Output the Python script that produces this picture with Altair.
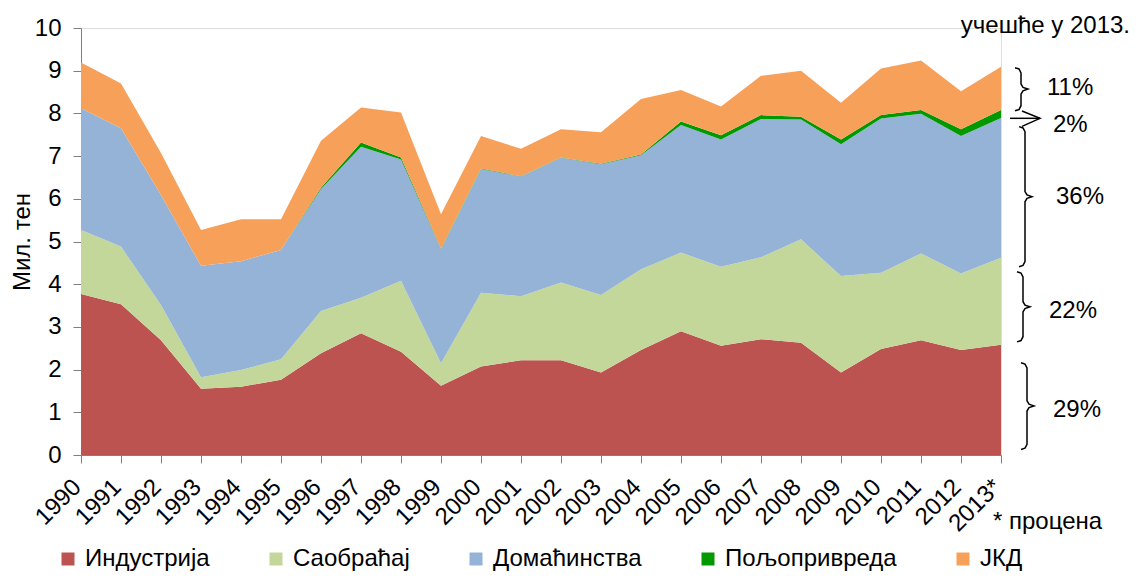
import altair as alt
import pandas as pd

years = ["1990", "1991", "1992", "1993", "1994", "1995", "1996", "1997", "1998", "1999",
         "2000", "2001", "2002", "2003", "2004", "2005", "2006", "2007", "2008", "2009",
         "2010", "2011", "2012", "2013*"]

series_names = ["Индустрија", "Саобраћај", "Домаћинства", "Пољопривреда", "ЈКД"]
series_colors = ["#BC5350", "#C4D79B", "#95B3D7", "#009A00", "#F7A05A"]

industry = [3.77, 3.53, 2.69, 1.55, 1.60, 1.76, 2.38, 2.85, 2.42, 1.62, 2.07, 2.22,
            2.22, 1.93, 2.46, 2.90, 2.56, 2.71, 2.63, 1.93, 2.48, 2.69, 2.46, 2.58]
transport = [1.50, 1.35, 0.82, 0.27, 0.39, 0.48, 0.99, 0.83, 1.66, 0.53, 1.73, 1.50,
             1.82, 1.82, 1.89, 1.84, 1.85, 1.92, 2.42, 2.26, 1.79, 2.03, 1.79, 2.04]
households = [2.85, 2.77, 2.58, 2.61, 2.55, 2.56, 2.86, 3.54, 2.84, 2.67, 2.90, 2.80,
              2.92, 3.06, 2.67, 2.99, 2.98, 3.24, 2.81, 3.09, 3.61, 3.27, 3.22, 3.27]
agriculture = [0.0, 0.0, 0.0, 0.0, 0.0, 0.0, 0.03, 0.10, 0.05, 0.01, 0.01, 0.01,
               0.01, 0.01, 0.02, 0.08, 0.10, 0.09, 0.06, 0.11, 0.08, 0.09, 0.16, 0.19]
jkd = [1.07, 1.05, 0.98, 0.84, 0.98, 0.72, 1.10, 0.82, 1.05, 0.81, 0.76, 0.64,
       0.66, 0.74, 1.30, 0.74, 0.67, 0.92, 1.08, 0.86, 1.09, 1.16, 0.89, 1.01]

# share labels for 2013 and the span (in Mtoe) each brace covers
share_labels = ["11%", "2%", "36%", "22%", "29%"]
brace_top = [9.07, 7.69, 4.29, 2.16]
brace_bottom = [8.06, 4.41, 2.65, 0.13]
brace_mid = [8.57, 6.05, 3.47, 1.15]
brace_x = [940, 944, 942, 946]          # px from plot left
arrow_y = 7.885

FONT = "Liberation Sans"

values = [industry, transport, households, agriculture, jkd]
rows = []
for si, (name, vals) in enumerate(zip(series_names, values)):
    for y, v in zip(years, vals):
        rows.append({"year": y, "series": name, "value": v, "ord": si})
df = pd.DataFrame(rows)

area = alt.Chart(df).mark_area(opacity=1).encode(
    x=alt.X("year:O", sort=years, scale=alt.Scale(type="point", padding=0),
            axis=alt.Axis(title=None, labelAngle=315, labelAlign="right",
                          labelBaseline="alphabetic",
                          labelFontSize=24, labelFont=FONT,
                          labelColor="black", tickSize=8, tickColor="#808080",
                          domainColor="#808080", labelPadding=25, labelOffset=1)),
    y=alt.Y("value:Q", stack="zero", scale=alt.Scale(domain=[0, 10], nice=False),
            axis=alt.Axis(title="Мил. тен", values=list(range(11)), grid=False,
                          labelFontSize=24, labelFont=FONT, labelColor="black",
                          tickSize=8, tickColor="#808080", domainColor="#808080",
                          labelPadding=12, titleFontSize=24, titleFont=FONT,
                          titleFontWeight="normal", titleColor="black", titlePadding=0)),
    color=alt.Color("series:N", scale=alt.Scale(domain=series_names, range=series_colors),
                    sort=series_names,
                    legend=alt.Legend(title=None, orient="none", direction="horizontal",
                                      legendX=-25, legendY=519, symbolType="square",
                                      symbolSize=169, symbolStrokeWidth=0,
                                      labelFontSize=24, labelFont=FONT, labelColor="black",
                                      labelLimit=400, columnPadding=54, labelOffset=5,
                                      padding=0)),
    order=alt.Order("ord:Q"),
)

# brace shapes
brows = []
for bi, (t, b, m, x) in enumerate(zip(brace_top, brace_bottom, brace_mid, brace_x)):
    pts = [(x - 6, t), (x - 2, t - 0.03), (x, t - 0.12), (x, m + 0.12), (x + 2, m + 0.04),
           (x + 7, m), (x + 2, m - 0.04), (x, m - 0.12), (x, b + 0.12), (x - 2, b + 0.03),
           (x - 6, b)]
    for k, (px, py) in enumerate(pts):
        brows.append({"g": f"b{bi}", "k": k, "bx": px, "by": py})
# arrow for 2%
arrow_pts = [("a0", [(929, arrow_y), (959, arrow_y)]),
             ("a1", [(941, arrow_y + 0.17), (959, arrow_y), (941, arrow_y - 0.19)])]
for g, pts in arrow_pts:
    for k, (px, py) in enumerate(pts):
        brows.append({"g": g, "k": k, "bx": px, "by": py})
bdf = pd.DataFrame(brows)

braces = alt.Chart(bdf).mark_line(color="black", strokeWidth=1.5, clip=False).encode(
    x=alt.X("bx:Q", scale=alt.Scale(domain=[0, 920], nice=False, zero=False), axis=None),
    y=alt.Y("by:Q", scale=alt.Scale(domain=[0, 10], nice=False), axis=None),
    detail="g:N",
    order="k:Q",
)

texts = []
text_specs = [
    ("учешће у 2013.", 1049, 5, "right"),
    (share_labels[0], 966, 67, "left"),
    (share_labels[1], 972, 104, "left"),
    (share_labels[2], 975, 176, "left"),
    (share_labels[3], 968, 290, "left"),
    (share_labels[4], 972, 389, "left"),
    ("* процена", 912, 501, "left"),
]
for txt, tx, ty, al in text_specs:
    texts.append(
        alt.Chart(pd.DataFrame({"t": [txt]})).mark_text(
            align=al, baseline="alphabetic", fontSize=24, font=FONT, color="black"
        ).encode(x=alt.value(tx), y=alt.value(ty), text="t:N")
    )

chart = alt.layer(area, braces, *texts).resolve_scale(
    x="independent", y="independent"
).properties(
    width=920, height=427,
    autosize=alt.AutoSizeParams(type="none"),
    padding={"left": 73, "top": 20, "right": 130, "bottom": 118},
).configure_view(stroke=None).configure(background="white")

chart.save("out.html", embed_options={"renderer": "svg", "actions": False})
